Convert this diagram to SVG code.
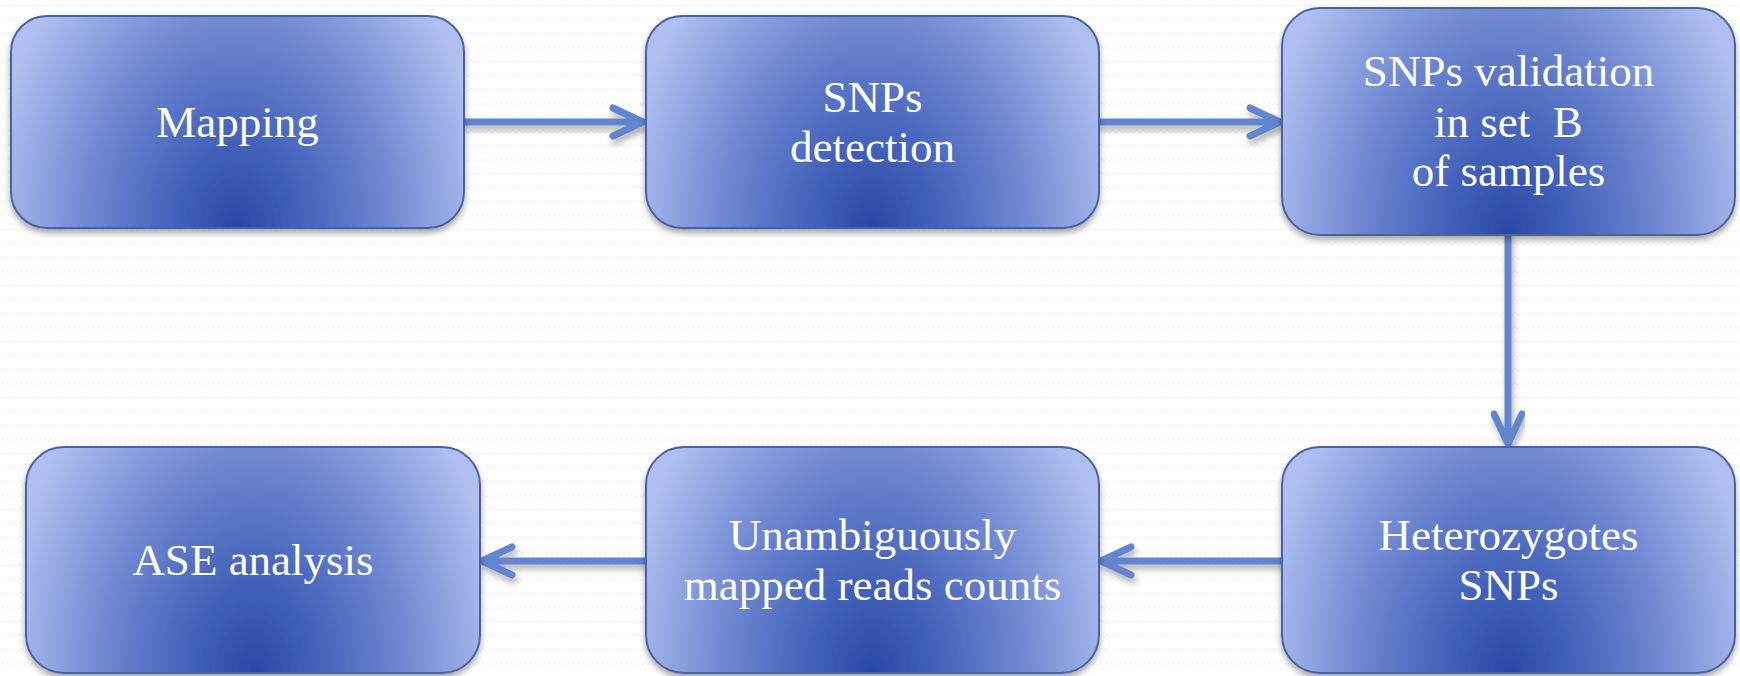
<svg xmlns="http://www.w3.org/2000/svg" width="1740" height="676" viewBox="0 0 1740 676">
  <defs>
    <pattern id="bgpat" width="12" height="14" patternUnits="userSpaceOnUse">
      <rect width="12" height="14" fill="#ffffff"/>
      <polyline points="0,7 3,4 6,7 9,4 12,7" fill="none" stroke="#f2f2f2" stroke-width="1"/>
    </pattern>
    <radialGradient id="boxgrad" cx="0.5" cy="1" r="1" fx="0.5" fy="1" gradientTransform="translate(0.5,1) scale(0.55,1.6) translate(-0.5,-1)">
      <stop offset="0" stop-color="#2a48a6"/>
      <stop offset="0.3" stop-color="#4866bd"/>
      <stop offset="0.62" stop-color="#728ad2"/>
      <stop offset="1" stop-color="#b0bff0"/>
    </radialGradient>
    <filter id="shadow" x="-10%" y="-10%" width="120%" height="130%">
      <feDropShadow dx="0" dy="4" stdDeviation="3" flood-color="#000000" flood-opacity="0.35"/>
    </filter>
    <filter id="lshadow" x="-10%" y="-50%" width="120%" height="200%">
      <feDropShadow dx="2" dy="5" stdDeviation="3" flood-color="#000000" flood-opacity="0.3"/>
    </filter>
    <style>
      .box { fill: url(#boxgrad); stroke: #4a62a6; stroke-width: 2; filter: url(#shadow); }
      .lbl { fill: #ffffff; font-family: "Liberation Serif", "Times New Roman", serif; font-size: 45px; text-anchor: middle; white-space: pre; }
      .conn { fill: none; stroke: #6384d0; stroke-width: 7; stroke-linecap: round; stroke-linejoin: round; filter: url(#lshadow); }
    </style>
  </defs>
  <rect width="1740" height="676" fill="url(#bgpat)"/>

  <g id="connectors">
    <path class="conn" d="M464 122 H641 M613 108 L643 122 L613 136"/>
    <path class="conn" d="M1099 122 H1278 M1250 108 L1280 122 L1250 136"/>
    <path class="conn" d="M1508 235 V443 M1494 414 L1508 444 L1522 414"/>
    <path class="conn" d="M1282 561 H1103 M1131 547 L1101 561 L1131 575"/>
    <path class="conn" d="M645 561 H484 M512 547 L482 561 L512 575"/>
  </g>

  <g id="node-mapping">
    <rect class="box" x="11" y="16" width="453" height="212" rx="36"/>
    <text class="lbl" x="237.5" y="137">Mapping</text>
  </g>
  <g id="node-snps-detection">
    <rect class="box" x="646" y="16" width="453" height="212" rx="36"/>
    <text class="lbl" x="872.5" y="112">SNPs</text>
    <text class="lbl" x="872.5" y="162">detection</text>
  </g>
  <g id="node-snps-validation">
    <rect class="box" x="1282" y="8" width="453" height="227" rx="38"/>
    <text class="lbl" x="1508.5" y="86">SNPs validation</text>
    <text class="lbl" x="1508.5" y="137">in set  B</text>
    <text class="lbl" x="1508.5" y="186">of samples</text>
  </g>
  <g id="node-heterozygotes">
    <rect class="box" x="1282" y="447" width="453" height="226" rx="38"/>
    <text class="lbl" x="1508.5" y="550">Heterozygotes</text>
    <text class="lbl" x="1508.5" y="600">SNPs</text>
  </g>
  <g id="node-unambiguous">
    <rect class="box" x="646" y="447" width="453" height="226" rx="38"/>
    <text class="lbl" x="872.5" y="550">Unambiguously</text>
    <text class="lbl" x="872.5" y="600">mapped reads counts</text>
  </g>
  <g id="node-ase">
    <rect class="box" x="26" y="447" width="454" height="226" rx="38"/>
    <text class="lbl" x="253" y="575">ASE analysis</text>
  </g>
</svg>
